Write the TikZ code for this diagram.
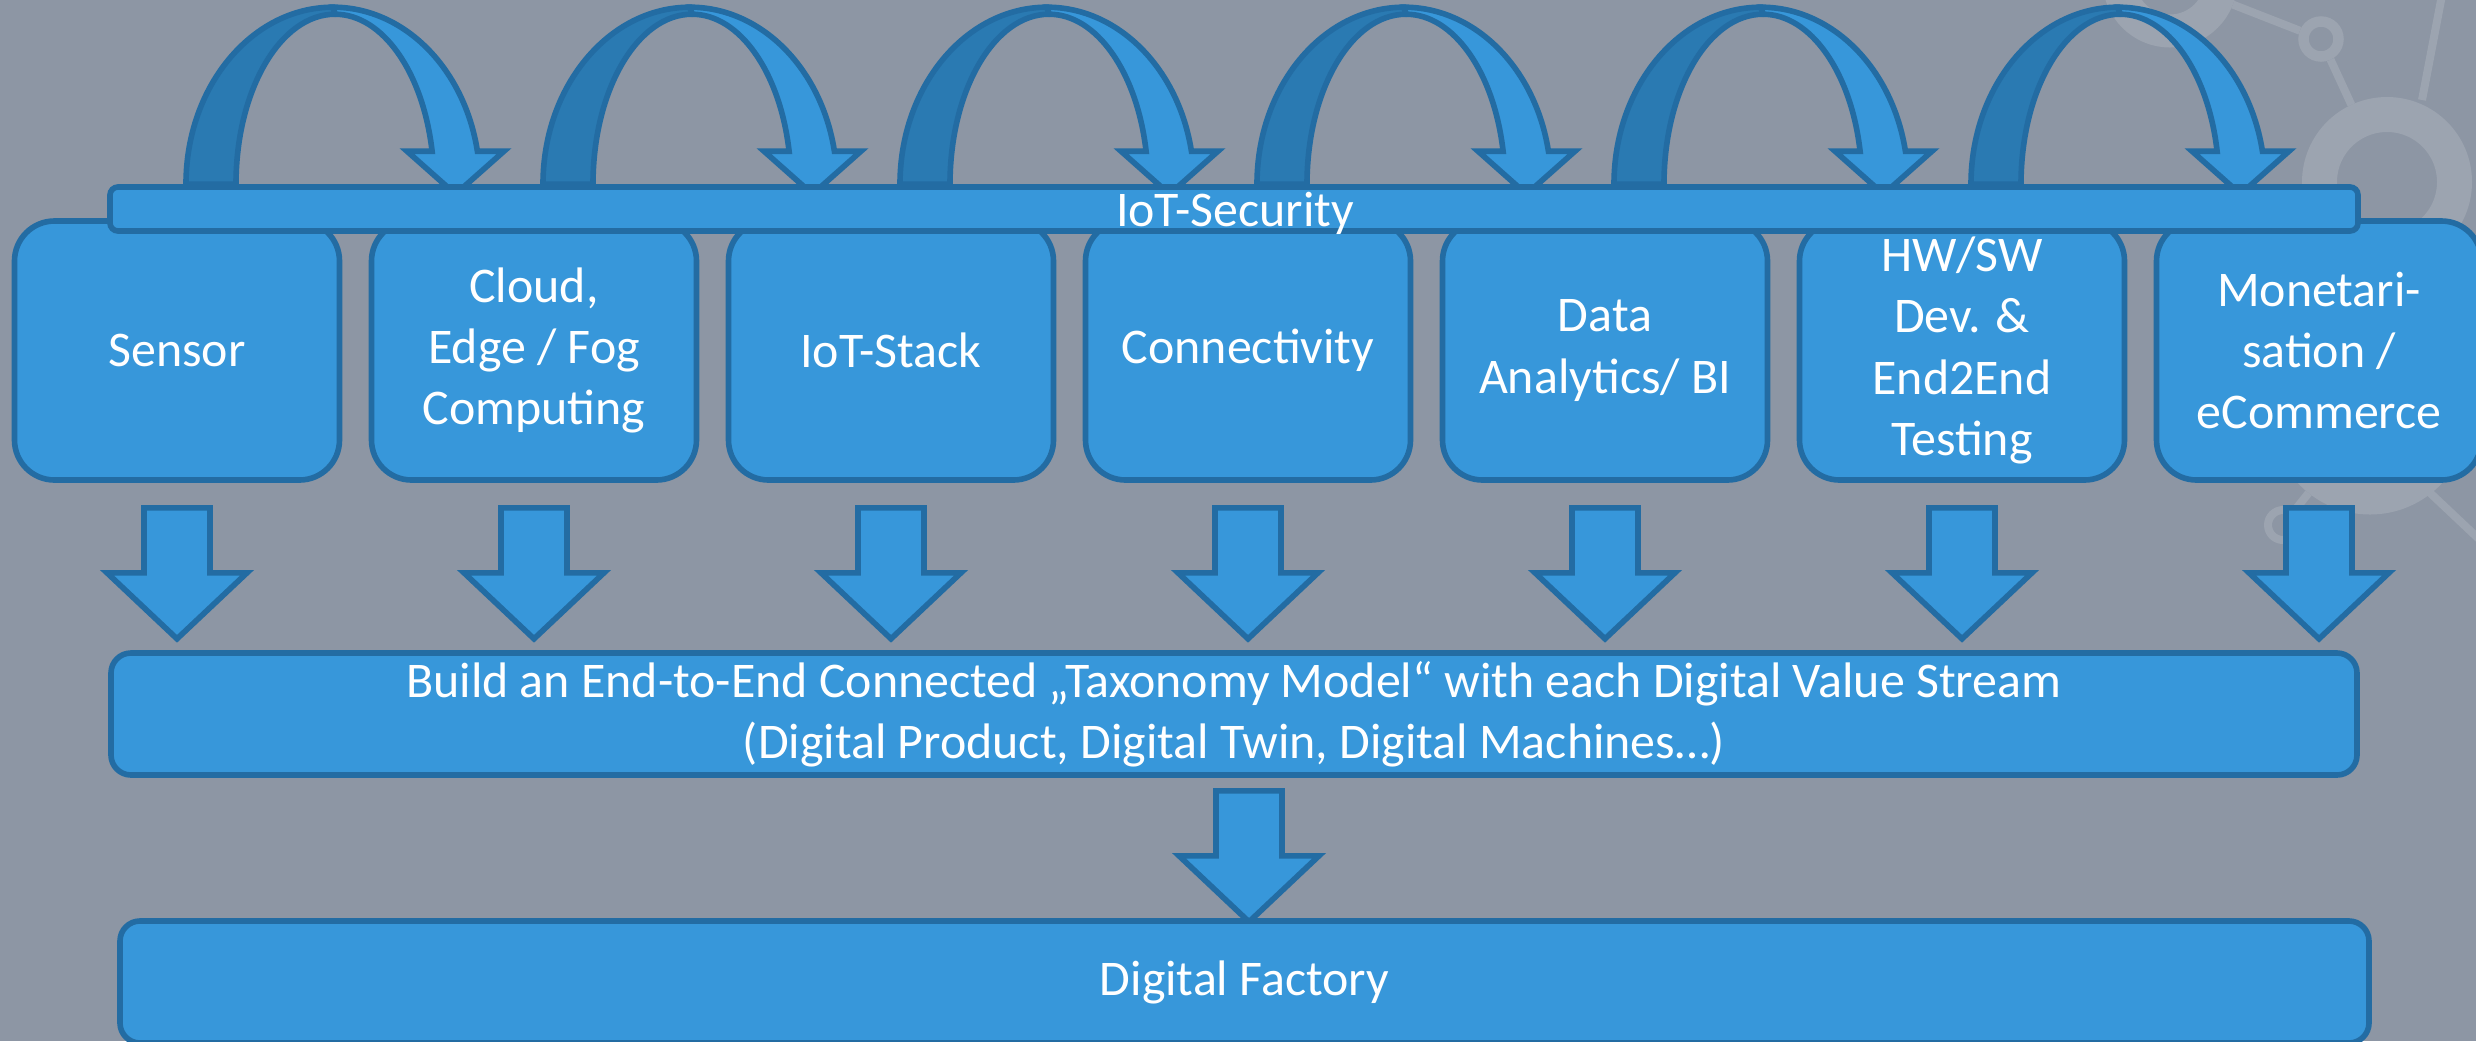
\documentclass[tikz,border=0pt]{standalone}
\usepackage{fontspec}
\setmainfont{Carlito}
\usetikzlibrary{positioning}

\definecolor{slidegray}{RGB}{141,150,164}
\definecolor{decogray}{RGB}{156,164,176}
\definecolor{tilefill}{RGB}{55,151,218}
\definecolor{tileline}{RGB}{35,108,163}
\definecolor{backarc}{RGB}{42,122,178}

\begin{document}
\begin{tikzpicture}[
  tile/.style={rectangle, rounded corners=0.4cm, draw=tileline, fill=tilefill, line width=1.6pt, minimum width=3.25cm, minimum height=2.59cm, inner sep=0pt, text=white, align=center, font=\fontsize{14.2}{17.4}\selectfont},
  band/.style={rectangle, rounded corners=0.2cm, draw=tileline, fill=tilefill, line width=1.6pt, minimum height=1.22cm, inner sep=0pt, text=white, align=center, font=\fontsize{14.2}{17.4}\selectfont},
  secbar/.style={rectangle, rounded corners=0.08cm, draw=tileline, fill=tilefill, line width=1.6pt, minimum width=22.48cm, minimum height=0.44cm, inner sep=0pt},
  lbl/.style={text=white, inner sep=0pt, font=\fontsize{14.2}{17.4}\selectfont},
  blk/.style={draw=tileline, fill=tilefill, line width=1.6pt, line join=miter},
  hub/.style={circle, draw=decogray, inner sep=0pt},
  deco/.style={draw=decogray, line width=0.08cm},
  downarrow/.pic={\draw[blk] (-0.33,0) -- (0.33,0) -- (0.33,-0.65) -- (0.70,-0.65) -- (0,-1.31) -- (-0.70,-0.65) -- (-0.33,-0.65) -- cycle;},
  looparrow/.pic={
    \draw[blk, fill=backarc] (0,0) arc[start angle=180, end angle=90, x radius=1.47, y radius=1.77] -- (1.49,1.70) arc[start angle=90, end angle=180, x radius=0.99, y radius=1.70] -- cycle;
    \draw[blk] (1.47,1.77) arc[start angle=90, end angle=10.74, x radius=1.47, y radius=1.77] -- (3.18,0.33) -- (2.695,-0.10) -- (2.21,0.33) -- (2.461,0.33) arc[start angle=11.19, end angle=90, x radius=0.99, y radius=1.70] -- cycle;}
]

% Hintergrund
\useasboundingbox (0,0) rectangle (24.76,-10.41);
\fill[slidegray] (0,0) rectangle (24.76,-10.41);

% Netz im Hintergrund
\node[hub, line width=0.35cm, minimum size=1.35cm] at (23.87,-1.82) (hubbig) {};
\node[hub, line width=0.105cm, minimum size=0.35cm] at (23.21,-0.39) (hubsmall) {};
\node[hub, line width=0.33cm, minimum size=1.02cm] at (21.70,0.20) (hubtop) {};
\node[hub, line width=0.33cm, minimum size=1.64cm] at (23.70,-4.16) (hublow) {};
\node[hub, line width=0.08cm, minimum size=0.30cm] at (22.83,-5.25) (hubtiny) {};
\coordinate (upA) at (24.22,-1.00);
\coordinate (upB) at (24.42,0.05);
\coordinate (lowA) at (24.27,-4.90);
\coordinate (lowB) at (24.80,-5.40);
\draw[deco] (hubsmall) -- (hubtop);
\draw[deco] (hubsmall) -- (hubbig);
\draw[deco] (upA) -- (upB);
\draw[deco] (lowA) -- (lowB);
\draw[deco] (hublow) -- (hubtiny);

% Bausteine
\node[tile] at (1.77,-3.505) (sensor) {Sensor};
\node[tile] at (5.34,-3.505) (cloud) {Cloud,\\Edge / Fog\\Computing};
\node[tile] at (8.91,-3.505) (stack) {IoT-Stack};
\node[tile] at (12.48,-3.505) (conn) {Connectivity};
\node[tile] at (16.05,-3.505) (data) {Data\\Analytics/ BI};
\node[tile] at (19.62,-3.505) (hwsw) {HW/SW\\Dev. \&\\End2End\\Testing};
\node[tile] at (23.19,-3.505) (money) {Monetari-\\sation /\\eCommerce};

% Bogenpfeile
\pic at ([xshift=0.09cm, yshift=0.34cm]sensor.north) {looparrow};
\pic at ([xshift=0.09cm, yshift=0.34cm]cloud.north) {looparrow};
\pic at ([xshift=0.09cm, yshift=0.34cm]stack.north) {looparrow};
\pic at ([xshift=0.09cm, yshift=0.34cm]conn.north) {looparrow};
\pic at ([xshift=0.09cm, yshift=0.34cm]data.north) {looparrow};
\pic at ([xshift=0.09cm, yshift=0.34cm]hwsw.north) {looparrow};

% IoT-Security
\node[secbar] at (12.34,-2.09) (sec) {};
\node[lbl, anchor=base] at (12.35,-2.26) (seclbl) {IoT-Security};

% Pfeile nach unten
\pic at ([yshift=-0.25cm]sensor.south) {downarrow};
\pic at ([yshift=-0.25cm]cloud.south) {downarrow};
\pic at ([yshift=-0.25cm]stack.south) {downarrow};
\pic at ([yshift=-0.25cm]conn.south) {downarrow};
\pic at ([yshift=-0.25cm]data.south) {downarrow};
\pic at ([yshift=-0.25cm]hwsw.south) {downarrow};
\pic at ([yshift=-0.25cm]money.south) {downarrow};

% Taxonomie
\node[band, minimum width=22.46cm] at (12.34,-7.14) (taxo) {Build an End-to-End Connected „Taxonomy Model“ with each Digital Value Stream\\(Digital Product, Digital Twin, Digital Machines…)};

\pic at ([xshift=0.15cm, yshift=-0.13cm]taxo.south) {downarrow};

% Digital Factory
\node[band, minimum width=22.49cm] at (12.445,-9.82) (factory) {Digital Factory};

\end{tikzpicture}
\end{document}
